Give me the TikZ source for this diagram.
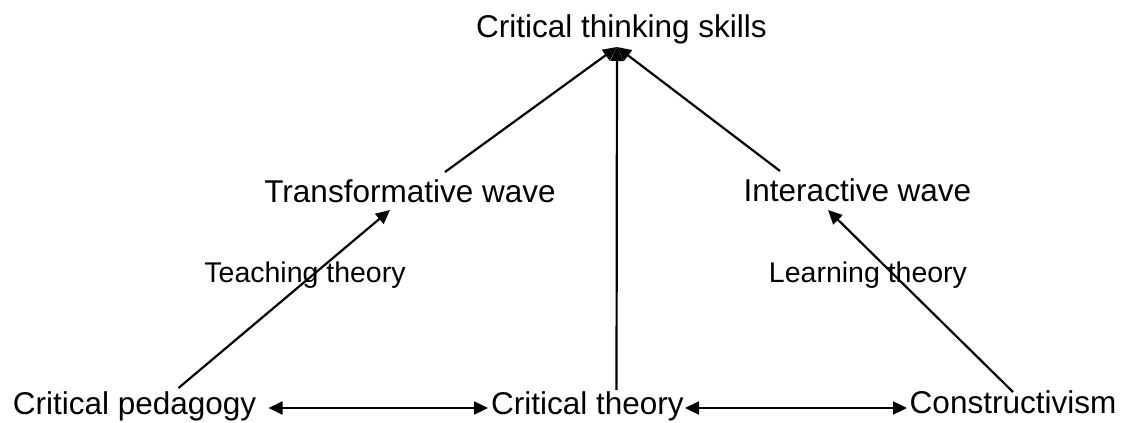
\documentclass[tikz,border=0pt]{standalone}
\usepackage{fontspec}
\setmainfont{Liberation Sans}
\usetikzlibrary{arrows.meta}
\begin{document}
\begin{tikzpicture}[x=1pt,y=-1pt,
  big/.style={anchor=base,inner sep=0pt,font=\fontsize{31.5}{36}\selectfont},
  small/.style={anchor=base,inner sep=0pt,font=\fontsize{28.5}{33}\selectfont},
  tip/.style={Triangle[length=14pt,width=13pt]},
  conn/.style={line width=2.2pt,-{Triangle[length=14pt,width=13pt]}},
  dconn/.style={line width=2.2pt,{Triangle[length=14pt,width=13pt]}-{Triangle[length=14pt,width=13pt]}}]
\useasboundingbox (0,0) rectangle (1122,423);
\node[big] (cts) at (621.5,37) {Critical thinking skills};
\node[big] (tw) at (410,202) {Transformative wave};
\node[big] (iw) at (857.5,201) {Interactive wave};
\node[small] (tt) at (305,282) {Teaching theory};
\node[small] (lt) at (868,282) {Learning theory};
\node[big] (cp) at (134.5,414) {Critical pedagogy};
\node[big] (ct) at (587.5,414) {Critical theory};
\node[big] (cv) at (1013,413) {Constructivism};
\draw[conn] ([shift={(44,-26)}]cp.base) -- ([shift={(-20,8)}]tw.base);
\draw[conn] ([shift={(0,-21)}]cv.base) -- ([shift={(-29.5,9)}]iw.base);
\draw[conn] ([shift={(35,-30)}]tw.base) -- ([shift={(-4.5,10)}]cts.base);
\draw[conn] ([shift={(29,-24)}]ct.base) -- ([shift={(-4.5,10)}]cts.base);
\draw[conn] ([shift={(-77.5,-30)}]iw.base) -- ([shift={(-4.5,10)}]cts.base);
\draw[dconn] ([shift={(134,-6)}]cp.base) -- ([shift={(-99.5,-6)}]ct.base);
\draw[dconn] ([shift={(97.5,-6)}]ct.base) -- ([shift={(-106,-5)}]cv.base);
\end{tikzpicture}
\end{document}
